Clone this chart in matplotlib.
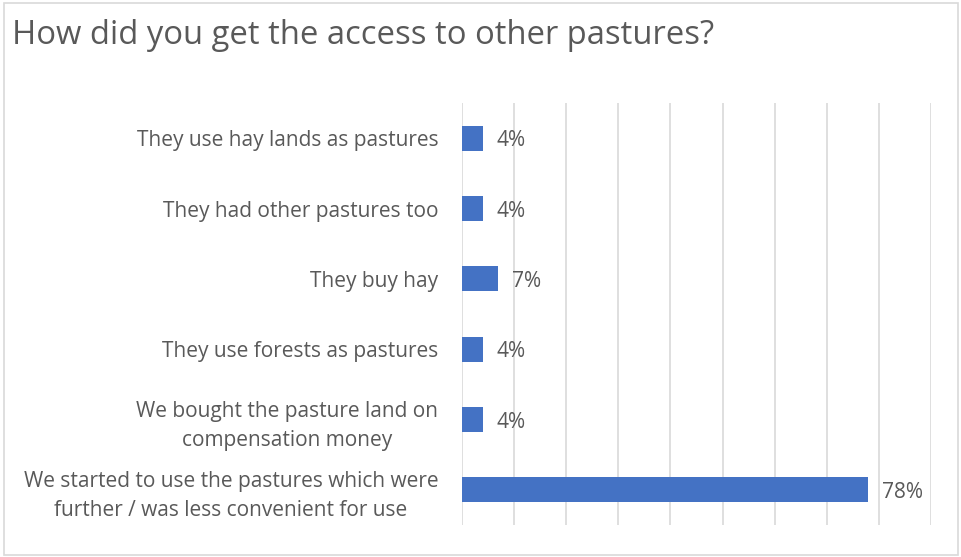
import matplotlib.pyplot as plt
from matplotlib.patches import Rectangle

categories = [
    'They use hay lands as pastures',
    'They had other pastures too',
    'They buy hay',
    'They use forests as pastures',
    'We bought the pasture land on\ncompensation money',
    'We started to use the pastures which were\nfurther / was less convenient for use',
]
shares = [4, 4, 7, 4, 4, 78]
value_labels = ['4%', '4%', '7%', '4%', '4%', '78%']

plt.rcParams['font.family'] = ['Open Sans', 'DejaVu Sans']
text_grey = '#595959'
line_grey = '#d9d9d9'

fig = plt.figure(figsize=(9.62, 5.57), dpi=100)
fig.patches.append(Rectangle((0.004, 0.004), 0.992, 0.99, transform=fig.transFigure,
                             fill=False, edgecolor=line_grey, linewidth=1.2))

ax = fig.add_axes([462 / 962, 1 - 525 / 557, (931 - 462) / 962, (525 - 103) / 557])
ypos = list(range(len(categories)))[::-1]
ax.barh(ypos, shares, height=0.36, color='#4472c4')

# value labels just right of each bar end
for y, v, lab in zip(ypos, shares, value_labels):
    ax.annotate(lab, (v, y), xytext=(10, -2), textcoords='offset points',
                va='center', ha='left', color=text_grey, fontsize=15)

ax.set_xlim(0, 90)
ax.set_ylim(-0.5, len(categories) - 0.5)
ax.set_xticks(range(0, 91, 10))
ax.tick_params(axis='x', bottom=False, labelbottom=False)
ax.grid(axis='x', color=line_grey, linewidth=1.2)
ax.set_axisbelow(True)
for s in ['top', 'right', 'bottom', 'left']:
    ax.spines[s].set_visible(False)

ax.set_yticks(ypos)
ax.set_yticklabels(categories, color=text_grey, fontsize=15, multialignment='center',
                   linespacing=1.5)
ax.tick_params(axis='y', left=False, length=0, pad=17)

fig.text(12 / 962, 1 - 35 / 557, 'How did you get the access to other pastures?',
         fontsize=23.6, color=text_grey, va='center', ha='left')

fig.savefig('out.png', dpi=100)
